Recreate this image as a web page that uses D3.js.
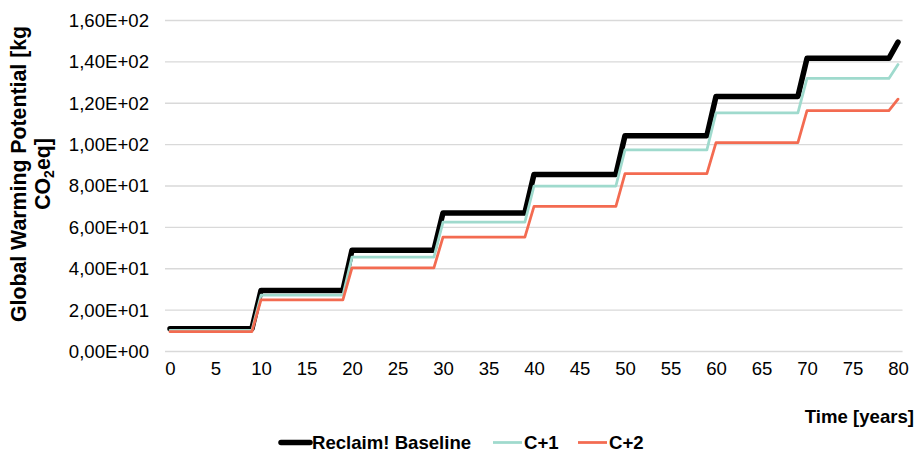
<!DOCTYPE html>
<html>
<head>
<meta charset="utf-8">
<script src="https://cdn.jsdelivr.net/npm/d3@7"></script>
<style>
  html, body { margin: 0; padding: 0; background: #fff; }
  svg { display: block; font-family: "Liberation Sans", Arial, sans-serif; }
</style>
</head>
<body>
<svg id="chart" width="920" height="454"></svg>
<script>
// ---- data ----
const years = [0, 9, 10, 19, 20, 29, 30, 39, 40, 49, 50, 59, 60, 69, 70, 79, 80];
const baseline = [11, 11, 29.5, 29.5, 49, 49, 67, 67, 85.6, 85.6, 104.3, 104.3, 123.3, 123.3, 141.7, 141.7, 149.5];
const cPlus1 = [10.2, 10.2, 27.2, 27.2, 45.6, 45.6, 62.5, 62.5, 80, 80, 97.5, 97.5, 115.3, 115.3, 132, 132, 138.7];
const cPlus2 = [9.6, 9.6, 25, 25, 40.4, 40.4, 55.3, 55.3, 70.2, 70.2, 86, 86, 101, 101, 116.4, 116.4, 122];
const seriesNames = ["Reclaim! Baseline", "C+1", "C+2"];
const xTicks = [0, 5, 10, 15, 20, 25, 30, 35, 40, 45, 50, 55, 60, 65, 70, 75, 80];
const yTicks = [0, 20, 40, 60, 80, 100, 120, 140, 160];
const yTickLabels = ["0,00E+00", "2,00E+01", "4,00E+01", "6,00E+01", "8,00E+01", "1,00E+02", "1,20E+02", "1,40E+02", "1,60E+02"];

// ---- styles ----
const colors = ["#000000", "#9fdacd", "#f36b51"];
const widths = [5.5, 2.75, 2.75];

const svg = d3.select("#chart");
const x = d3.scaleLinear().domain([0, 80]).range([170, 898]);
const y = d3.scaleLinear().domain([0, 160]).range([351.5, 20.5]);

// gridlines
svg.append("g").selectAll("line").data(yTicks).join("line")
  .attr("x1", x(-0.55)).attr("x2", x(80.5))
  .attr("y1", d => y(d)).attr("y2", d => y(d))
  .attr("stroke", "#d9d9d9").attr("stroke-width", 1.3);

// y axis
const yAxis = d3.axisLeft(y).tickValues(yTicks).tickSize(0).tickPadding(0)
  .tickFormat((d, i) => yTickLabels[i]);
const gy = svg.append("g").attr("transform", "translate(149,0)").call(yAxis);
gy.select(".domain").remove();
gy.selectAll("text").attr("font-size", "18.6px").attr("fill", "#000")
  .attr("font-family", "Liberation Sans, Arial, sans-serif");

// x axis
const xAxis = d3.axisBottom(x).tickValues(xTicks).tickSize(0).tickPadding(0)
  .tickFormat(d => String(d));
const gx = svg.append("g").attr("transform", "translate(0,362)").call(xAxis);
gx.select(".domain").remove();
gx.selectAll("text").attr("font-size", "18.6px").attr("fill", "#000")
  .attr("font-family", "Liberation Sans, Arial, sans-serif");

// lines
const allSeries = [baseline, cPlus1, cPlus2];
const line = d3.line().x((d, i) => x(years[i])).y(d => y(d));
allSeries.forEach((s, k) => {
  svg.append("path").datum(s)
    .attr("d", line)
    .attr("fill", "none")
    .attr("stroke", colors[k])
    .attr("stroke-width", widths[k])
    .attr("stroke-linejoin", "round")
    .attr("stroke-linecap", "round");
});

// y title
const yt = svg.append("text")
  .attr("transform", "translate(0,174) rotate(-90)")
  .attr("text-anchor", "middle")
  .attr("font-weight", "bold").attr("font-size", "21.3px").attr("fill", "#000");
yt.append("tspan").attr("x", 0).attr("y", 26).text("Global Warming Potential [kg");
const t2 = yt.append("tspan").attr("x", 0).attr("y", 50);
t2.append("tspan").text("CO");
t2.append("tspan").attr("font-size", "14px").attr("dy", 4).text("2");
t2.append("tspan").attr("dy", -4).text("eq]");

// x title
svg.append("text").attr("x", 914).attr("y", 423)
  .attr("text-anchor", "end").attr("font-weight", "bold").attr("font-size", "18.6px")
  .text("Time [years]");

// legend
const legendX = [281, 493, 578];
const lg = svg.append("g");
seriesNames.forEach((name, k) => {
  lg.append("line")
    .attr("x1", legendX[k]).attr("x2", legendX[k] + 29)
    .attr("y1", 442.5).attr("y2", 442.5)
    .attr("stroke", colors[k]).attr("stroke-width", widths[k])
    .attr("stroke-linecap", k === 0 ? "round" : "butt");
  lg.append("text").attr("x", legendX[k] + 31).attr("y", 449)
    .attr("font-weight", "bold").attr("font-size", "18.6px").attr("fill", "#000")
    .text(name);
});
</script>
</body>
</html>
